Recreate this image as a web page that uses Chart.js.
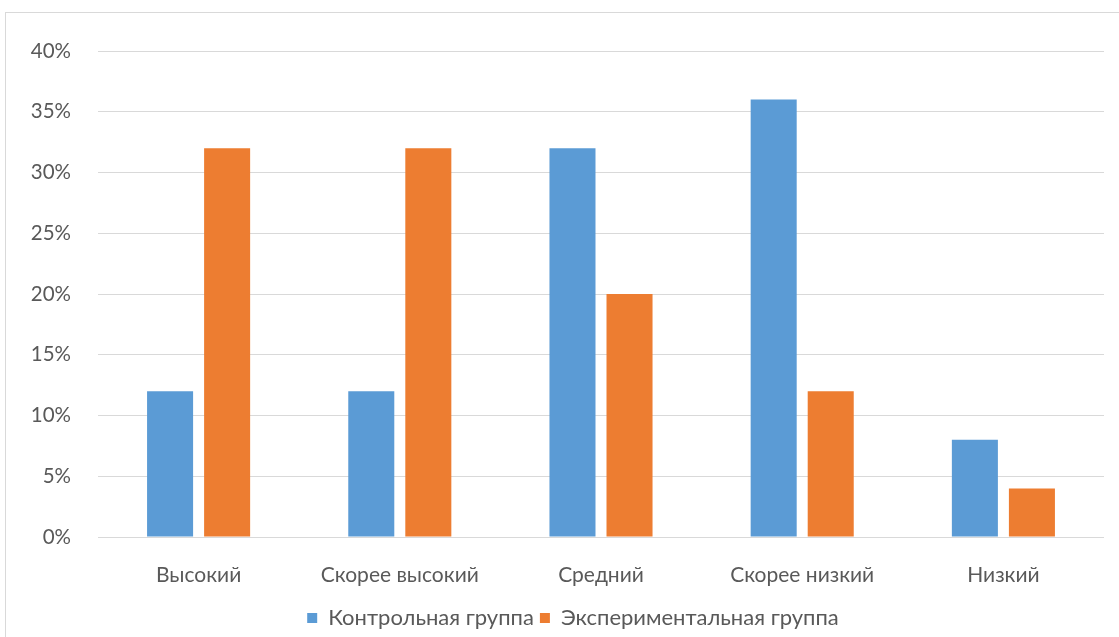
<!DOCTYPE html>
<html>
<head>
<meta charset="utf-8">
<script src="https://cdn.jsdelivr.net/npm/chart.js@4/dist/chart.umd.min.js"></script>
<style>
  html, body { margin: 0; padding: 0; background: #fff; overflow: hidden; }
  #wrap { position: relative; width: 1119px; height: 637px; }
  #frame { position: absolute; left: 5px; top: 12px; width: 1300px; height: 800px;
           border: 1px solid #d9d9d9; box-sizing: border-box; }
  canvas { position: absolute; left: 0; top: 0; }
</style>
</head>
<body>
<div id="wrap">
  <div id="frame"></div>
  <canvas id="c" width="1119" height="637"></canvas>
</div>
<script>
const categories = ['Высокий', 'Скорее высокий', 'Средний', 'Скорее низкий', 'Низкий'];
const controlGroup = [12, 12, 32, 36, 8];
const experimentalGroup = [32, 32, 20, 12, 4];
const seriesNames = ['Контрольная группа', 'Экспериментальная группа'];
const yTicks = [0, 5, 10, 15, 20, 25, 30, 35, 40];

const textColor = '#595959';
const fontFamily = 'Lato, "Open Sans", sans-serif';

// nudges the legend row a little right and down, under the middle of the plot
const legendOffset = {
  id: 'legendOffset',
  afterLayout(chart) {
    const lg = chart.legend;
    if (!lg) return;
    lg.left += 21; lg.right += 21;
    lg.top += 4; lg.bottom += 4;
  }
};

new Chart(document.getElementById('c'), {
  type: 'bar',
  data: {
    labels: categories,
    datasets: [
      { label: seriesNames[0], data: controlGroup, backgroundColor: '#5b9bd5',
        categoryPercentage: 0.567, barPercentage: 0.807 },
      { label: seriesNames[1], data: experimentalGroup, backgroundColor: '#ed7d31',
        categoryPercentage: 0.567, barPercentage: 0.807 }
    ]
  },
  plugins: [legendOffset],
  options: {
    responsive: false,
    animation: false,
    layout: { padding: { left: 0, right: 15, top: 51, bottom: 2 } },
    plugins: {
      tooltip: { enabled: false },
      legend: {
        position: 'bottom',
        labels: {
          boxWidth: 10, boxHeight: 10, padding: 6,
          color: textColor, font: { family: fontFamily, size: 22 }
        }
      }
    },
    scales: {
      x: {
        afterFit: (s) => { s.height = 60; },
        grid: { display: false, drawTicks: false },
        border: { display: false },
        ticks: { color: textColor, padding: 26, font: { family: fontFamily, size: 21 } }
      },
      y: {
        min: 0, max: 40,
        afterBuildTicks: (s) => { s.ticks = yTicks.map(v => ({ value: v })); },
        afterFit: (s) => { s.width = 98; },
        grid: { color: '#d9d9d9', lineWidth: 1, drawTicks: false },
        border: { display: false },
        ticks: {
          color: textColor, padding: 27,
          font: { family: fontFamily, size: 20.5 },
          callback: (v) => v + '%'
        }
      }
    }
  }
});
</script>
</body>
</html>
